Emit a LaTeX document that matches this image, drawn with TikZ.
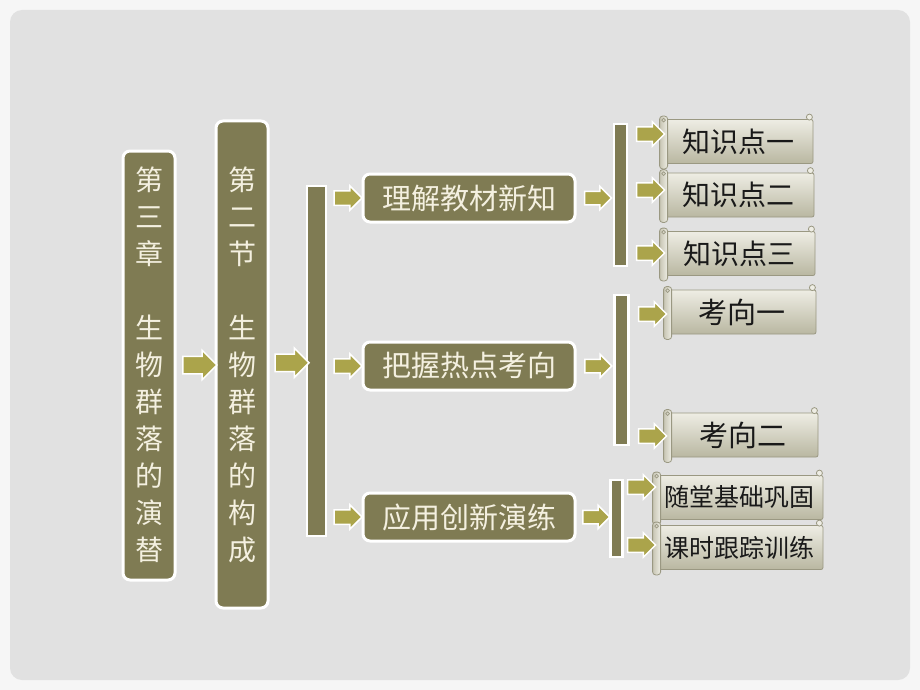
\documentclass[tikz,border=0pt]{standalone}
\usepackage{fontspec}
\setmainfont{Noto Sans CJK SC}
\usetikzlibrary{shapes.arrows,calc}
\definecolor{bgouter}{HTML}{F6F6F6}
\definecolor{bginner}{HTML}{E1E1E1}
\definecolor{boxolive}{HTML}{7F7B53}
\definecolor{arrowc}{HTML}{ABA44B}
\definecolor{cream}{HTML}{F4F0E0}
\definecolor{scrolllight}{HTML}{EEEDE4}
\definecolor{scrolldark}{HTML}{B9B7A1}
\definecolor{scrolledge}{HTML}{9A9882}
\tikzset{
  obox/.style={fill=boxolive, draw=white, line width=3pt, rounded corners=7pt, inner sep=0pt},
  barbox/.style={fill=boxolive, draw=white, line width=2.5pt, inner sep=0pt},
  vtext/.style={text=cream, font=\fontsize{28}{37}\selectfont, align=center, inner sep=0pt, anchor=north},
  htext/.style={text=cream, font=\fontsize{29}{34}\selectfont},
  barrow/.style={single arrow, fill=arrowc, draw=white, line width=1.5pt, inner sep=8pt,
    single arrow head extend=6pt, minimum height=34pt},
  sarrow/.style={single arrow, fill=arrowc, draw=white, line width=1.5pt, inner sep=6.5pt,
    single arrow head extend=5pt, minimum height=28pt},
  ssarrow/.style={sarrow, inner sep=6pt, minimum height=27pt},
  scrollbody/.style={top color=scrolllight, bottom color=scrolldark, draw=scrolledge, line width=0.8pt,
    rounded corners=2pt, inner sep=0pt, minimum height=44pt, text=black!90},
}
\newcommand{\scrolldeco}[1]{%
  \draw[scrolledge, line width=0.8pt, left color=scrolldark!80, right color=scrolllight, rounded corners=3pt]
    ([xshift=-3pt,yshift=3pt]#1.north west) rectangle ([xshift=5pt,yshift=-5pt]#1.south west);
  \draw[scrolledge, line width=0.7pt] ([xshift=1pt,yshift=-1pt]#1.north west) circle (1.8pt);
  \draw[scrolledge, line width=0.8pt, fill=scrolllight] ([xshift=-4pt,yshift=2pt]#1.north east) circle (3pt);
}
\begin{document}
\begin{tikzpicture}[x=1pt,y=-1pt]
\useasboundingbox (0,0) rectangle (920,690);
\fill[bgouter] (0,0) rectangle (920,690);
\fill[bginner, rounded corners=12pt] (10,10) rectangle (910,680);

% first column
\node[obox, minimum width=52pt, minimum height=429pt] (c3) at (149,365.5) {};
\node[vtext] (c3t) at (149,167) {第\\三\\章\\[37pt]生\\物\\群\\落\\的\\演\\替};
\node[obox, minimum width=52pt, minimum height=487pt] (s2) at (242,364.5) {};
\node[vtext] (s2t) at (242,167) {第\\二\\节\\[37pt]生\\物\\群\\落\\的\\构\\成};
\node[barbox, minimum width=19pt, minimum height=350pt] (b1) at (316.5,361) {};

\node[barrow] (a1) at ($(c3.east)!0.5!(s2.west)$) {};
\node[barrow] (a2) at ($(s2.east)!0.5!(b1.west)$) {};

% second column
\node[obox, minimum width=212pt, minimum height=48pt, htext] (k1) at (469,198) {理解教材新知};
\node[obox, minimum width=212pt, minimum height=48pt, htext] (k2) at (469,366) {把握热点考向};
\node[obox, minimum width=212pt, minimum height=48pt, htext] (k3) at (469,517) {应用创新演练};

\node[sarrow] (a3) at ($(b1.east|-k1.west)!0.5!(k1.west)$) {};
\node[sarrow] (a4) at ($(b1.east|-k2.west)!0.5!(k2.west)$) {};
\node[sarrow] (a5) at ($(b1.east|-k3.west)!0.5!(k3.west)$) {};

% bars of third column
\node[barbox, minimum width=13pt, minimum height=142pt] (b2) at (620.5,195) {};
\node[barbox, minimum width=14pt, minimum height=150pt] (b3) at (621.5,370) {};
\node[barbox, minimum width=12pt, minimum height=77pt] (b4) at (616.5,518.5) {};

\node[ssarrow] (a6) at ($(k1.east)!0.5!(b2.west|-k1.east)$) {};
\node[ssarrow] (a7) at ($(k2.east)!0.5!(b3.west|-k2.east)$) {};
\node[ssarrow] (a8) at ($(k3.east)!0.5!(b4.west|-k3.east)$) {};

% scrolls
\node[scrollbody, minimum width=150pt, font=\fontsize{28}{30}\selectfont] (sa) at (738,141.5) {知识点一};
\node[scrollbody, minimum width=151pt, font=\fontsize{28}{30}\selectfont] (sb) at (738.5,195) {知识点二};
\node[scrollbody, minimum width=152pt, font=\fontsize{28}{30}\selectfont] (sc) at (739,253.5) {知识点三};
\node[scrollbody, minimum width=149pt, font=\fontsize{29}{30}\selectfont] (sd) at (741.5,312) {考向一};
\node[scrollbody, minimum width=151pt, font=\fontsize{29}{30}\selectfont] (se) at (742.5,435) {考向二};
\node[scrollbody, minimum width=167pt, font=\fontsize{25}{28}\selectfont] (sf) at (739.5,497.5) {随堂基础巩固};
\node[scrollbody, minimum width=167pt, font=\fontsize{25}{28}\selectfont] (sg) at (739.5,547.5) {课时跟踪训练};
\foreach \s in {sa,sb,sc,sd,se,sf,sg}{\scrolldeco{\s}}

\node[sarrow] (a9) at (647,134) {};
\node[sarrow] (a10) at (647,190) {};
\node[sarrow] (a11) at (647,253) {};
\node[sarrow] (a12) at (649,314) {};
\node[sarrow] (a13) at (649,436) {};
\node[sarrow] (a14) at (638,487) {};
\node[sarrow] (a15) at (638,545) {};
\end{tikzpicture}
\end{document}
